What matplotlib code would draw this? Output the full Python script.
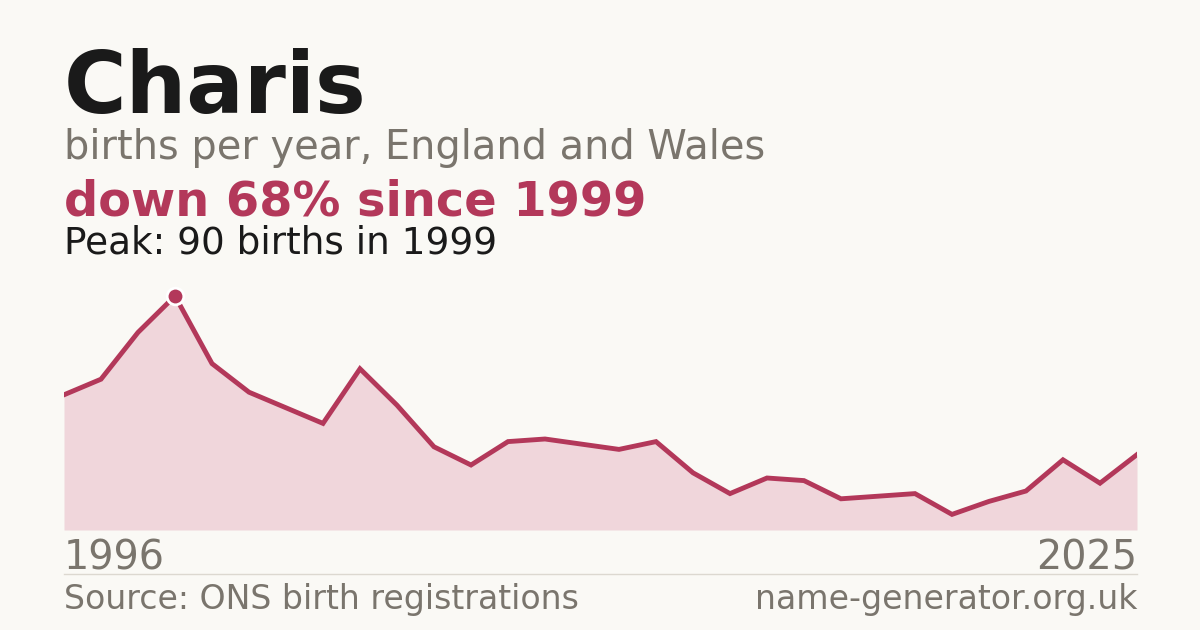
import matplotlib
matplotlib.use('Agg')
import matplotlib.pyplot as plt

# Data
years = list(range(1996, 2026))
births = [52, 58, 76, 90, 64, 53, 47, 41, 62, 48,
          32, 25, 34, 35, 33, 31, 34, 22, 14, 20,
          19, 12, 13, 14, 6, 11, 15, 27, 18, 29]
peak_year = 1999
peak_value = 90

BG = '#faf9f5'
RED = '#b3385a'
FILL = '#f0d6db'
DARK = '#1a1a1a'
GREY = '#7a756d'

W, H = 1200, 630
fig = plt.figure(figsize=(12, 6.3), dpi=100, facecolor=BG)


def fy(px):
    return 1 - px / H


# Plot area
left, right, bottom, top = 64, 1137, 530, 280
ax = fig.add_axes([left / W, fy(bottom), (right - left) / W, (bottom - top) / H])
ax.set_facecolor(BG)
ax.patch.set_alpha(0)
ax.fill_between(years, births, 0, color=FILL, linewidth=0)
ax.plot(years, births, color=RED, linewidth=3.5, solid_joinstyle='miter')
ax.plot([peak_year], [peak_value], 'o', color=RED, markersize=12,
        markeredgecolor='white', markeredgewidth=2, zorder=5)
ax.set_xlim(years[0], years[-1])
ax.set_ylim(0, peak_value * (bottom - top) / 234)
ax.axis('off')

# Texts
fig.text(left / W, fy(113), 'Charis', fontsize=61.5, fontweight='bold',
         color=DARK, va='baseline')
fig.text(left / W, fy(159), 'births per year, England and Wales',
         fontsize=28.7, color=GREY, va='baseline')
fig.text(left / W, fy(215), 'down 68% since 1999', fontsize=34.5,
         fontweight='bold', color=RED, va='baseline')
fig.text(left / W, fy(253), 'Peak: 90 births in 1999', fontsize=26.9,
         color=DARK, va='baseline')
fig.text(left / W, fy(570), str(years[0]), fontsize=28.6, color=GREY, va='baseline')
fig.text(right / W, fy(570), str(years[-1]), fontsize=28.6, color=GREY,
         va='baseline', ha='right')

# Divider
fig.add_artist(plt.Line2D([left / W, right / W], [fy(574), fy(574)],
                          color='#dcd8d0', linewidth=1))

fig.text(left / W, fy(609), 'Source: ONS birth registrations', fontsize=23.9,
         color=GREY, va='baseline')
fig.text(right / W, fy(609), 'name-generator.org.uk', fontsize=23.9,
         color=GREY, va='baseline', ha='right')

fig.savefig('out.png', dpi=100, facecolor=BG)
